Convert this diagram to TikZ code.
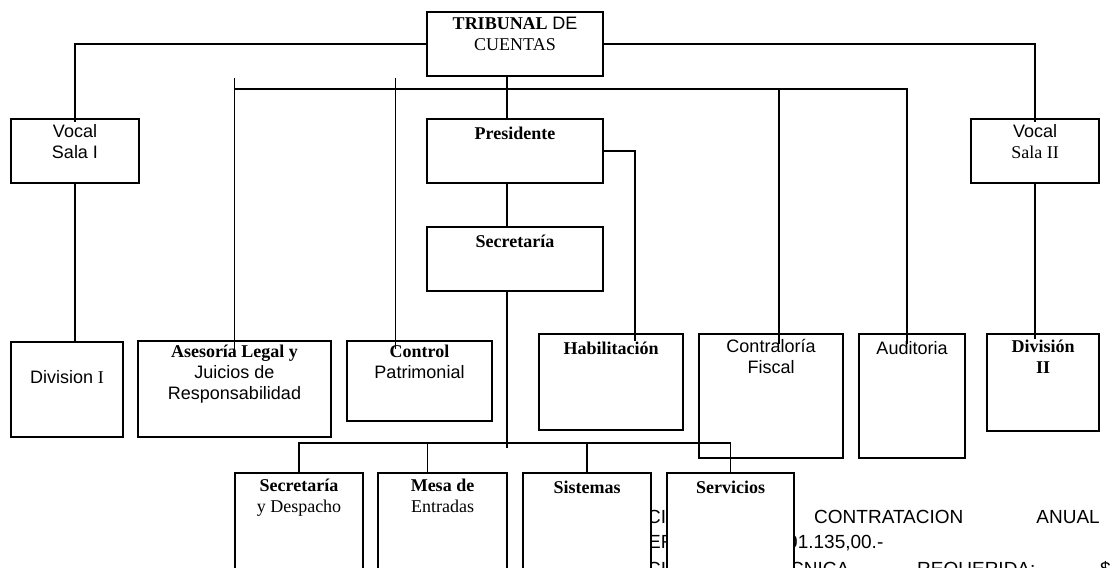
\documentclass[tikz,border=0pt]{standalone}
\usepackage{fontspec}
\setmainfont{Liberation Serif}
\setsansfont{Liberation Sans}
\usetikzlibrary{positioning,calc}
\newcommand{\bh}{64}
\newcommand{\obox}[6][-6pt]{
  \node[obox,minimum width=#4pt,minimum height=#5pt] (#2) at #3 {};
  \node[otext,yshift=#1] (#2-t) at (#2.north) {#6};
}
\tikzset{
  obox/.style={draw,fill=white,line width=1.3pt,inner sep=0pt},
  otext/.style={anchor=north,align=center,inner sep=0pt,
    font=\fontsize{18}{21}\selectfont,execute at begin node={\rule{0pt}{14.5pt}}},
  link/.style={line width=1.3pt},
  into/.style={shorten >=-9pt},
  bgtext/.style={anchor=base west,inner sep=0pt,font=\sffamily\fontsize{19}{21}\selectfont}
}

\begin{document}
\begin{tikzpicture}[x=1pt,y=-1pt]
  \useasboundingbox (0,0) rectangle (1115,567);
  \clip (0,0) rectangle (1115,567);

  \node[bgtext] (ta) at (647,523) {CI};
  \node[bgtext] (tb) at (814,523) {CONTRATACION};
  \node[bgtext,anchor=base east] (tc) at (1100,523) {ANUAL};
  \node[bgtext] (td) at (648,548) {ER};
  \node[bgtext] (te) at (787,548) {01.135,00.-};
  \node[bgtext] (tf) at (647,575.6) {CI};
  \node[bgtext] (tg) at (790,575.6) {CNICA};
  \node[bgtext] (th) at (917,575.6) {REQUERIDA:};
  \node[bgtext] (ti) at (1100,575.6) {\$};

  \obox{trib}{(515,44)}{176}{\bh}{\textbf{TRIBUNAL} \textsf{DE}\\CUENTAS}
  \obox{v1}{(75,151)}{128}{\bh}{\textsf{Vocal}\\\textsf{Sala I}}
  \obox{v2}{(1035,151)}{128}{\bh}{\textsf{Vocal}\\Sala II}
  \obox{pres}{(515,151)}{176}{\bh}{\textbf{Presidente}}
  \obox{secr}{(515,259)}{176}{\bh}{\textbf{Secretaría}}

  \obox[-27pt]{div1}{(67,389.5)}{112}{95}{\textsf{Division} I}
  \obox[-4pt]{ases}{(234.5,389)}{193}{96}{\textbf{Asesoría Legal y}\\\textsf{Juicios de}\\\textsf{Responsabilidad}}
  \obox[-4pt]{ctrl}{(419.5,381)}{145}{80}{\textbf{Control}\\\textsf{Patrimonial}}
  \obox{habil}{(611,382)}{144}{96}{\textbf{Habilitación}}
  \obox{contr}{(771,396)}{144}{124}{\textsf{Contraloría}\\\textsf{Fiscal}}
  \obox{audi}{(912,396)}{106}{124}{\textsf{Auditoria}}
  \obox{div2}{(1043,382.5)}{112}{97}{\textbf{División}\\\textbf{II}}

  \obox{sdesp}{(299,536.5)}{128}{127}{\textbf{Secretaría}\\y Despacho}
  \obox{mesa}{(442.5,536.5)}{129}{127}{\textbf{Mesa de}\\Entradas}
  \obox{sist}{(587,536.5)}{128}{127}{\textbf{Sistemas}}
  \obox{serv}{(730.5,536.5)}{127}{127}{\textbf{Servicios}}

  \coordinate (bus) at (0,89);
  \coordinate (bus2) at (0,443);

  \draw[link,shorten >=-4pt] (trib.west) -| (v1.north);
  \draw[link,shorten >=-4pt] (trib.east) -| (v2.north);
  \draw[link] (v1.south) -- (v1.south |- div1.north);
  \draw[link,shorten >=-6pt] (v2.south) -- (v2.south |- div2.north);

  \draw[link,shorten >=-11pt] (ases.north |- bus) -| ([xshift=-5pt]audi.north);
  \draw[link,shorten <=-11pt,shorten >=-11pt] (ases.north |- bus) -- (ases.north);
  \draw[link,shorten <=-11pt,into] ([xshift=-24pt]ctrl.north |- bus) -- ([xshift=-24pt]ctrl.north);
  \draw[link,shorten >=-11pt] ([xshift=8pt]contr.north |- bus) -- ([xshift=8pt]contr.north);

  \draw[link] ([xshift=-8pt]trib.south) -- ([xshift=-8pt]pres.north);
  \draw[link] ([xshift=-8pt]pres.south) -- ([xshift=-8pt]secr.north);
  \draw[link,shorten >=-8pt] (pres.east) -| ([xshift=24pt]habil.north);
  \draw[link,shorten >=-5pt] ([xshift=-8pt]secr.south) -- ([xshift=-8pt]secr.south |- bus2);

  \draw[link] (sdesp.north) |- (serv.north |- bus2) -- (serv.north);
  \draw[link] ([xshift=-15pt]mesa.north) -- ([xshift=-15pt]mesa.north |- bus2);
  \draw[link] (sist.north) -- (sist.north |- bus2);
\end{tikzpicture}
\end{document}
